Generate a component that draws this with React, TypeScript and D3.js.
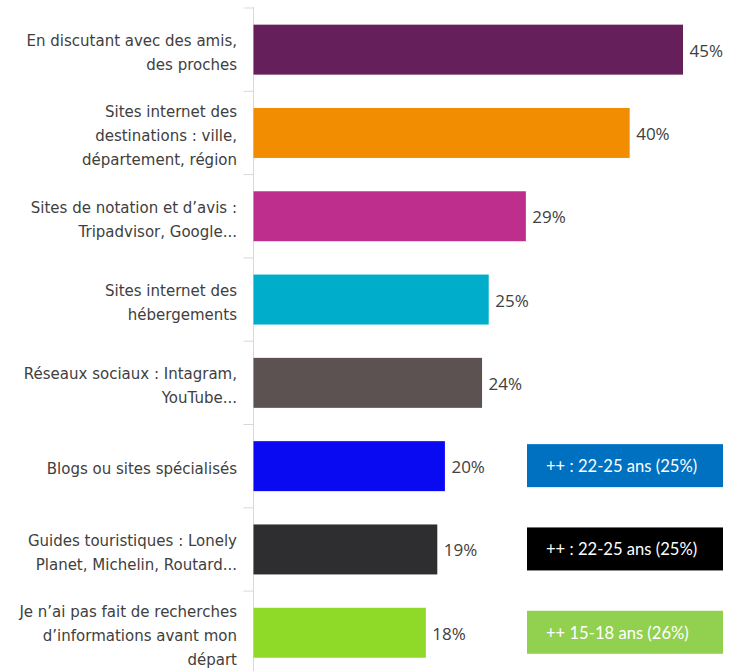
import React from "react";
import * as d3 from "d3";

const categories: string[][] = [
  ["En discutant avec des amis,", "des proches"],
  ["Sites internet des", "destinations : ville,", "département, région"],
  ["Sites de notation et d’avis :", "Tripadvisor, Google..."],
  ["Sites internet des", "hébergements"],
  ["Réseaux sociaux : Intagram,", "YouTube..."],
  ["Blogs ou sites spécialisés"],
  ["Guides touristiques : Lonely", "Planet, Michelin, Routard..."],
  ["Je n’ai pas fait de recherches", "d’informations avant mon", "départ"],
];
const values: number[] = [45.1, 39.5, 28.6, 24.7, 24.0, 20.1, 19.3, 18.1];
const valueLabels: string[] = ["45%", "40%", "29%", "25%", "24%", "20%", "19%", "18%"];
const barColors: string[] = [
  "#65205c", "#f28c00", "#be2e8c", "#00adcb", "#5b5251", "#0a0af2", "#2e2e31", "#8fd928",
];
const notes: { index: number; text: string; color: string }[] = [
  { index: 5, text: "++ : 22-25 ans (25%)", color: "#0070c0" },
  { index: 6, text: "++ : 22-25 ans (25%)", color: "#000000" },
  { index: 7, text: "++ 15-18 ans (26%)", color: "#92d050" },
];

const W = 731;
const H = 671;

export default function App() {
  const x = d3.scaleLinear().domain([0, 45.1]).range([253.5, 683]);
  const y = d3
    .scaleBand<number>()
    .domain(d3.range(values.length))
    .range([8, 8 + 83.3 * values.length])
    .paddingInner(0.4)
    .paddingOuter(0.2);
  const step = y.step();
  const x0 = x(0);
  const lineH = 24;
  return (
    <svg
      width={W}
      height={H}
      style={{ position: "absolute", left: 0, top: 0, background: "#fff" }}
    >
      <line x1={x0} x2={x0} y1={y.range()[0] - 1} y2={H} stroke="#d9d9d9" strokeWidth={1} />
      {d3.range(values.length + 1).map((i) => {
        const ty = y.range()[0] + i * step;
        return (
          <line key={"t" + i} x1={x0 - 10} x2={x0} y1={ty} y2={ty} stroke="#d9d9d9" strokeWidth={1} />
        );
      })}
      {values.map((v, i) => {
        const by = y(i)!;
        const bh = y.bandwidth();
        const cy = by + bh / 2;
        const lines = categories[i];
        const startY = cy + 3 - ((lines.length - 1) * lineH) / 2;
        return (
          <g key={i}>
            <rect x={x0} y={by} width={x(v) - x0} height={bh} fill={barColors[i]} />
            <text
              x={x(v) + 6.5}
              y={cy + 1}
              dy="0.35em"
              fontFamily="'Open Sans', sans-serif"
              fontSize={17}
              fill="#404040"
            >
              {valueLabels[i]}
            </text>
            <text
              fontFamily="'DejaVu Sans', Verdana, sans-serif"
              fontSize={15}
              fill="#404040"
              textAnchor="end"
            >
              {lines.map((l, j) => (
                <tspan key={j} x={237} y={startY + j * lineH} dy="0.35em">
                  {l}
                </tspan>
              ))}
            </text>
          </g>
        );
      })}
      {notes.map((n, k) => {
        const cy = y(n.index)! + y.bandwidth() / 2;
        return (
          <g key={"n" + k}>
            <rect x={527} y={cy - 22} width={196} height={43} fill={n.color} />
            <text
              x={546}
              y={cy}
              dy="0.35em"
              fontFamily="Lato, 'Open Sans', sans-serif"
              fontSize={16.6}
              fill="#ffffff"
            >
              {n.text}
            </text>
          </g>
        );
      })}
    </svg>
  );
}
